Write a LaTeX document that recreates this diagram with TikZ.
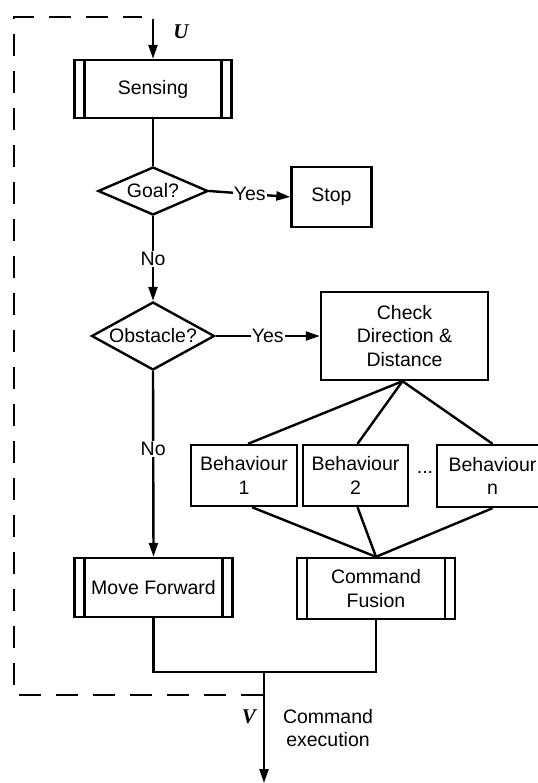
\documentclass[tikz,border=0pt]{standalone}
\usepackage{fontspec}
\setmainfont{Liberation Sans}
\newfontfamily\varfont{Liberation Serif}
\usetikzlibrary{shapes.geometric,arrows.meta}
\begin{document}
\begin{tikzpicture}[x=0.5pt,y=-0.5pt,
  line width=1.2pt,
  font=\fontsize{9.75}{11.6}\selectfont,
  box/.style={draw,rectangle,inner sep=0pt,align=center},
  proc/.style={box,path picture={
     \draw[line width=1.2pt] ([xshift=5pt]path picture bounding box.north west) -- ([xshift=5pt]path picture bounding box.south west);
     \draw[line width=1.2pt] ([xshift=-5pt]path picture bounding box.north east) -- ([xshift=-5pt]path picture bounding box.south east);}},
  dec/.style={draw,diamond,inner sep=0pt},
  arr/.style={-{Triangle[length=7pt,width=4.5pt]}},
  lab/.style={fill=white,inner sep=0.6pt},
  var/.style={font=\fontsize{10.5}{12}\varfont\bfseries\itshape},
  loop/.style={dashed,dash pattern=on 11pt off 7.5pt}
]
\useasboundingbox (0,0) rectangle (537,783);

% nodes
\node[proc,minimum width=78.5pt,minimum height=29pt] (sense) at (153,89) {Sensing};
\node[dec,minimum width=55pt,minimum height=24pt] (goal) at (153,191) {\makebox[0pt]{Goal?}};
\node[box,minimum width=40pt,minimum height=30pt] (stop) at (331.5,197) {Stop};
\node[dec,minimum width=61.5pt,minimum height=34pt] (obst) at (153,336) {\makebox[0pt]{Obstacle?}};
\node[box,minimum width=83.5pt,minimum height=44pt] (check) at (404.5,336) {Check\\Direction \&\\Distance};
\node[box,minimum width=53pt,minimum height=30.5pt] (b1) at (244,475.5) {Behaviour\\1};
\node[box,minimum width=52.5pt,minimum height=30.5pt] (b2) at (355.5,475.5) {Behaviour\\2};
\node[box,minimum width=55.5pt,minimum height=31pt] (bn) at (492.5,476) {Behaviour\\n};
\node (dots) at (425,472) {...};
\node[proc,minimum width=79pt,minimum height=29.5pt] (move) at (153.5,587.5) {Move Forward};
\node[proc,minimum width=79pt,minimum height=30.5pt] (fuse) at (376,588.5) {Command\\Fusion};

\coordinate (join) at (264,672);
\coordinate (out) at (264,783);
\coordinate (uin) at (153,19);
\coordinate (d1) at (263,695);
\coordinate (d2) at (14,695);
\coordinate (d3) at (14,17);
\coordinate (d4) at (142,17);

\node[var] (ulab) at (181,32) {U};
\node[var] (vlab) at (249,717) {V};
\node[align=center] (exec) at (328,728) {Command\\execution};

% connectors
\draw[arr] (uin) -- (sense.north);
\draw (sense.south) -- (goal.north);
\draw[arr] (goal.east) -- node[lab] (yes1) {Yes} (stop.west);
\draw[arr] (goal.south) -- node[lab] (no1) {No} (obst.north);
\draw[arr] (obst.east) -- node[lab] (yes2) {Yes} (check.west);
\draw[arr] (obst.south) -- node[lab,pos=0.42] (no2) {No} (move.north);

\draw ([xshift=-1pt]check.south) -- ([xshift=2pt]b1.north);
\draw ([xshift=-1pt]check.south) -- ([xshift=1pt]b2.north);
\draw ([xshift=-1pt]check.south) -- (bn.north);
\draw ([xshift=4pt]b1.south) -- (fuse.north);
\draw ([xshift=1pt]b2.south) -- (fuse.north);
\draw (bn.south) -- (fuse.north);

\draw (move.south) -- (move.south |- join) -- (fuse.south |- join) -- (fuse.south);
\draw[arr] (join) -- (out);

\draw[loop] (d1) -- (d2) -- (d3) -- (d4);
\end{tikzpicture}
\end{document}
